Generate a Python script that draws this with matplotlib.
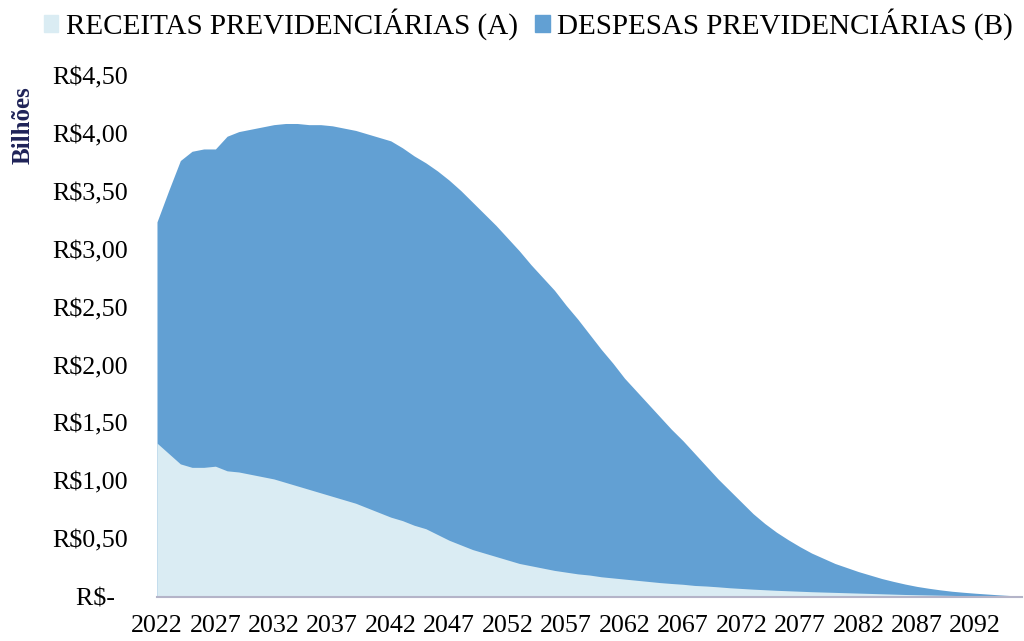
import matplotlib
matplotlib.use("Agg")
import matplotlib.pyplot as plt
import numpy as np
from matplotlib.patches import Patch

plt.rcParams["font.family"] = ["Liberation Serif", "DejaVu Serif"]

# anos da projeção
anos = list(range(2022, 2097))

# receitas previdenciárias (A), R$ bilhões
receitas = [
    1.33, 1.24, 1.15, 1.12, 1.12, 1.13, 1.09, 1.08, 1.06, 1.04,
    1.02, 0.99, 0.96, 0.93, 0.90, 0.87, 0.84, 0.81, 0.77, 0.73,
    0.69, 0.66, 0.62, 0.59, 0.54, 0.49, 0.45, 0.41, 0.38, 0.35,
    0.32, 0.29, 0.27, 0.25, 0.23, 0.215, 0.20, 0.19, 0.175, 0.165,
    0.155, 0.145, 0.135, 0.125, 0.117, 0.11, 0.10, 0.095, 0.088, 0.08,
    0.074, 0.068, 0.063, 0.058, 0.054, 0.05, 0.046, 0.043, 0.04, 0.037,
    0.034, 0.031, 0.028, 0.025, 0.022, 0.02, 0.018, 0.016, 0.014, 0.012,
    0.01, 0.008, 0.007, 0.006, 0.005,
]

# despesas previdenciárias (B), R$ bilhões
despesas = [
    3.24, 3.51, 3.77, 3.85, 3.87, 3.87, 3.98, 4.02, 4.04, 4.06,
    4.08, 4.09, 4.09, 4.08, 4.08, 4.07, 4.05, 4.03, 4.00, 3.97,
    3.94, 3.88, 3.81, 3.75, 3.68, 3.60, 3.51, 3.41, 3.31, 3.21,
    3.10, 2.99, 2.87, 2.76, 2.65, 2.52, 2.40, 2.27, 2.14, 2.02,
    1.89, 1.78, 1.67, 1.56, 1.45, 1.35, 1.24, 1.13, 1.02, 0.92,
    0.82, 0.72, 0.635, 0.56, 0.495, 0.435, 0.38, 0.335, 0.29, 0.255,
    0.22, 0.19, 0.16, 0.135, 0.112, 0.092, 0.076, 0.062, 0.05, 0.041,
    0.033, 0.026, 0.019, 0.013, 0.008,
]

yticks = [0, 0.5, 1.0, 1.5, 2.0, 2.5, 3.0, 3.5, 4.0, 4.5]
ytick_labels = ["R$-  ", "R$0,50", "R$1,00", "R$1,50", "R$2,00", "R$2,50",
                "R$3,00", "R$3,50", "R$4,00", "R$4,50"]

cor_desp = "#62a0d3"
cor_rec = "#daecf3"

fig = plt.figure(figsize=(10.24, 6.41), dpi=100)
ax = fig.add_axes([0.1533, 0.0686, 0.8447, 0.8128])

x = np.array(anos)
ax.fill_between(x, 0, despesas, color=cor_desp, linewidth=0, zorder=1)
ax.fill_between(x, 0, receitas, color=cor_rec, linewidth=0, zorder=2)

ax.set_xlim(2022, 2096)
ax.set_ylim(0, 4.5)
ax.set_yticks(yticks)
ax.set_yticklabels(ytick_labels)
ax.set_xticks(anos[::5])
ax.set_xticklabels([str(a) for a in anos[::5]])
ax.tick_params(axis="both", length=0, labelsize=18.7)
ax.tick_params(axis="y", pad=21)
ax.tick_params(axis="x", pad=13)

for s in ["top", "right", "left"]:
    ax.spines[s].set_visible(False)
ax.spines["bottom"].set_color("#b4b4c8")
ax.spines["bottom"].set_linewidth(1.5)

fig.text(0.0225, 1 - 125 / 641, "Bilhões", rotation=90, ha="center", va="center",
         fontsize=18, fontweight="bold", color="#1f2358")

handles = [Patch(color=cor_rec, label="RECEITAS PREVIDENCIÁRIAS (A)"),
           Patch(color=cor_desp, label="DESPESAS PREVIDENCIÁRIAS (B)")]
fig.legend(handles=handles, loc="upper left", bbox_to_anchor=(0.040, 0.992),
           ncol=2, frameon=False, fontsize=21, handlelength=0.5,
           handleheight=0.5, handletextpad=0.25, columnspacing=0.6,
           borderpad=0.1, borderaxespad=0)

fig.savefig("out.png", dpi=100)
plt.close(fig)
